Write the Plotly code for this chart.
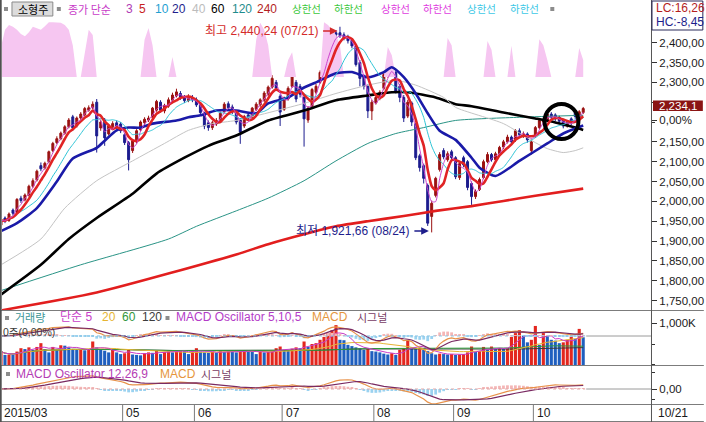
import pandas as pd
import plotly.graph_objects as go

# ---------------- trading calendar ----------------
months = ["03", "04", "05", "06", "07", "08", "09", "10"]
days_in_month = [
    [19, 20, 23, 24, 25, 26, 27, 30, 31],
    [1, 2, 3, 6, 7, 8, 9, 10, 13, 14, 15, 16, 17, 20, 21, 22, 23, 24, 27, 28, 29, 30],
    [4, 6, 7, 8, 11, 12, 13, 14, 15, 18, 19, 20, 21, 22, 26, 27, 28, 29],
    [1, 2, 3, 4, 5, 8, 9, 10, 11, 12, 15, 16, 17, 18, 19, 22, 23, 24, 25, 26, 29, 30],
    [1, 2, 3, 6, 7, 8, 9, 10, 13, 14, 15, 16, 17, 20, 21, 22, 23, 24, 27, 28, 29, 30, 31],
    [3, 4, 5, 6, 7, 10, 11, 12, 13, 17, 18, 19, 20, 21, 24, 25, 26, 27, 28, 31],
    [1, 2, 3, 4, 7, 8, 9, 10, 11, 14, 15, 16, 17, 18, 21, 22, 23, 24, 25, 30],
    [1, 2, 5, 6, 7, 8, 12, 13, 14, 15, 16, 19, 20],
]
month_labels = ["2015/03", "", "05", "06", "07", "08", "09", "10"]

# ---------------- daily prices (소형주 index) ----------------
open_ = [
    1940, 1958, 1952, 1978, 1972, 2008, 2004, 2016, 2038, 2054,
    2090, 2084, 2100, 2128, 2148, 2158, 2172, 2188, 2213, 2190,
    2210, 2218, 2230, 2236, 2250, 2185, 2205, 2170, 2188, 2198,
    2195, 2168, 2148, 2128, 2150, 2180, 2198, 2205, 2212, 2230,
    2250, 2228, 2240, 2255, 2266, 2272, 2262, 2254, 2262, 2256,
    2245, 2222, 2198, 2186, 2195, 2204, 2226, 2246, 2238, 2225,
    2205, 2190, 2218, 2212, 2232, 2243, 2255, 2270, 2288, 2300,
    2265, 2232, 2258, 2290, 2300, 2290, 2262, 2205, 2240, 2275,
    2300, 2330, 2360, 2396, 2425, 2425, 2420, 2415, 2405, 2390,
    2350, 2315, 2290, 2228, 2248, 2260, 2285, 2318, 2335, 2325,
    2290, 2262, 2215, 2248, 2195, 2115, 2090, 2040, 1962, 2015,
    2080, 2128, 2105, 2125, 2110, 2060, 2110, 2100, 2045, 2012,
    2030, 2060, 2100, 2118, 2105, 2120, 2137, 2150, 2162, 2155,
    2178, 2165, 2170, 2128, 2165, 2186, 2200, 2206, 2220, 2218,
    2212, 2205, 2190, 2208, 2225, 2212, 2224,
]
high = [
    1956, 1962, 1972, 1982, 2008, 2014, 2020, 2042, 2058, 2080,
    2098, 2100, 2128, 2150, 2164, 2176, 2192, 2210, 2218, 2214,
    2225, 2238, 2242, 2252, 2258, 2206, 2210, 2195, 2202, 2204,
    2200, 2172, 2152, 2156, 2182, 2204, 2212, 2216, 2238, 2256,
    2255, 2246, 2262, 2274, 2284, 2278, 2268, 2270, 2268, 2262,
    2250, 2226, 2204, 2203, 2210, 2226, 2250, 2252, 2244, 2230,
    2210, 2218, 2224, 2238, 2250, 2260, 2278, 2292, 2318, 2306,
    2270, 2264, 2290, 2332, 2306, 2296, 2268, 2240, 2286, 2296,
    2330, 2362, 2402, 2420, 2432, 2440.24, 2426, 2420, 2410, 2394,
    2356, 2320, 2295, 2256, 2268, 2280, 2326, 2345, 2340, 2330,
    2296, 2268, 2256, 2252, 2198, 2120, 2095, 2045, 2002, 2062,
    2124, 2134, 2126, 2130, 2114, 2100, 2115, 2104, 2050, 2030,
    2060, 2105, 2124, 2122, 2125, 2140, 2155, 2168, 2166, 2182,
    2184, 2176, 2174, 2156, 2190, 2208, 2212, 2226, 2225, 2222,
    2216, 2208, 2205, 2212, 2230, 2230, 2238,
]
low = [
    1934, 1945, 1948, 1964, 1970, 1996, 2000, 2012, 2034, 2050,
    2076, 2080, 2096, 2124, 2144, 2154, 2168, 2184, 2178, 2186,
    2205, 2214, 2226, 2232, 2123, 2178, 2140, 2166, 2184, 2182,
    2172, 2142, 2078, 2122, 2146, 2176, 2192, 2200, 2208, 2226,
    2224, 2222, 2236, 2250, 2262, 2256, 2248, 2250, 2250, 2238,
    2218, 2182, 2178, 2180, 2190, 2200, 2222, 2230, 2220, 2194,
    2145, 2185, 2204, 2208, 2228, 2238, 2250, 2265, 2284, 2278,
    2190, 2228, 2254, 2286, 2250, 2262, 2138, 2198, 2234, 2270,
    2296, 2326, 2356, 2390, 2410, 2412, 2406, 2398, 2386, 2340,
    2290, 2282, 2210, 2205, 2244, 2255, 2280, 2312, 2322, 2272,
    2250, 2200, 2210, 2190, 2104, 2075, 2045, 1938, 1921.66, 2010,
    2075, 2106, 2100, 2104, 2056, 2054, 2086, 2028, 1991, 2006,
    2026, 2056, 2096, 2100, 2100, 2116, 2132, 2146, 2144, 2150,
    2162, 2160, 2148, 2118, 2160, 2182, 2196, 2202, 2206, 2202,
    2196, 2184, 2186, 2192, 2208, 2208, 2220,
]
close = [
    1952, 1950, 1968, 1970, 2005, 2002, 2016, 2038, 2052, 2076,
    2082, 2096, 2125, 2146, 2158, 2172, 2188, 2205, 2185, 2210,
    2220, 2234, 2236, 2245, 2165, 2200, 2160, 2190, 2196, 2188,
    2178, 2148, 2105, 2152, 2178, 2200, 2207, 2210, 2235, 2252,
    2230, 2242, 2256, 2268, 2276, 2262, 2254, 2260, 2256, 2243,
    2224, 2190, 2186, 2198, 2204, 2222, 2245, 2236, 2226, 2200,
    2175, 2214, 2210, 2235, 2245, 2256, 2273, 2288, 2310, 2285,
    2225, 2260, 2285, 2322, 2258, 2270, 2208, 2235, 2282, 2290,
    2325, 2356, 2398, 2414, 2420, 2418, 2412, 2405, 2392, 2345,
    2310, 2290, 2228, 2250, 2262, 2275, 2320, 2335, 2328, 2278,
    2262, 2210, 2250, 2200, 2110, 2085, 2058, 1945, 1995, 2058,
    2118, 2112, 2120, 2110, 2062, 2095, 2092, 2035, 2012, 2025,
    2055, 2100, 2118, 2105, 2120, 2136, 2150, 2162, 2150, 2178,
    2168, 2170, 2155, 2150, 2186, 2204, 2206, 2220, 2212, 2208,
    2202, 2190, 2200, 2198, 2214, 2226, 2234.1,
]

# longer moving averages (read at sample days)
ma20_idx = [0, 4, 9, 14, 18, 24, 26, 29, 32, 35, 38, 44, 47, 50, 54, 59, 64, 67, 72, 76,
            79, 84, 88, 92, 96, 98, 101, 104, 107, 110, 114, 118, 120, 124, 130, 137, 141, 146]
ma20_val = [1925, 1945, 1983, 2050, 2108, 2135, 2153, 2179, 2186, 2186, 2196, 2204, 2212, 2217,
            2229, 2229, 2222, 2247, 2262, 2287, 2300, 2323, 2326, 2313, 2326, 2338, 2313, 2272,
            2222, 2178, 2155, 2110, 2085, 2064, 2102, 2146, 2171, 2191]
ma40_idx = [0, 10, 16, 24, 33, 41, 47, 53, 59, 76, 84, 92, 99, 104, 111, 114, 126, 134, 137, 141, 144, 146]
ma40_val = [1840, 1905, 1983, 2052, 2102, 2146, 2179, 2196, 2204, 2247, 2272, 2293, 2305, 2293,
            2262, 2237, 2196, 2148, 2133, 2123, 2128, 2135]
ma60_idx = [0, 10, 17, 24, 33, 39, 46, 52, 59, 67, 76, 84, 92, 98, 102, 109, 114, 118, 126, 134, 139, 144, 146]
ma60_val = [1765, 1840, 1905, 1958, 2019, 2070, 2110, 2140, 2166, 2204, 2229, 2255, 2267, 2275,
            2275, 2262, 2245, 2240, 2224, 2209, 2199, 2186, 2180]
ma120_idx = [0, 20, 42, 49, 59, 67, 76, 84, 92, 99, 106, 114, 130, 146]
ma120_val = [1775, 1840, 1905, 1937, 1976, 2008, 2052, 2102, 2146, 2171, 2186, 2204, 2212, 2217]
ma240_idx = [0, 24, 59, 67, 76, 84, 92, 101, 109, 118, 126, 134, 146]
ma240_val = [1725, 1770, 1866, 1892, 1917, 1937, 1950, 1963, 1976, 1988, 2001, 2014, 2032]

# band indicator shaded at the top of the price pane (0..1)
band = [
    0.51, 0.80, 0.88, 0.85, 0.80, 0.73, 0.69, 0.76, 0.85, 0.83,
    0.80, 0.86, 0.93, 0.93, 0.93, 0.92, 0.88, 0.80, 0.54, 0,
    0, 0.37, 0.80, 0.71, 0, 0, 0, 0, 0, 0,
    0, 0, 0, 0, 0, 0, 0.63, 0.83, 0.54, 0,
    0, 0, 0, 0.34, 0, 0, 0, 0, 0, 0,
    0, 0, 0, 0, 0, 0, 0, 0, 0, 0,
    0, 0, 0, 0, 0.63, 0.92, 0.80, 0.54, 0, 0,
    0, 0, 0.29, 0.42, 0, 0, 0, 0, 0, 0,
    0, 0.93, 0.88, 0.80, 0.71, 0.54, 0, 0, 0, 0,
    0, 0, 0, 0, 0, 0, 0, 0.51, 0.37, 0,
    0, 0, 0, 0, 0, 0, 0, 0, 0, 0,
    0, 0, 0.66, 0.54, 0, 0, 0, 0, 0, 0,
    0, 0, 0.61, 0.46, 0, 0, 0, 0, 0.53, 0,
    0, 0, 0, 0, 0, 0.64, 0.54, 0.29, 0, 0,
    0, 0, 0, 0, 0, 0.49, 0.29,
]

# volume, thousands of shares
volume = [
    320, 240, 250, 240, 320, 400, 380, 420, 360, 430,
    520, 380, 300, 430, 360, 470, 460, 420, 380, 360,
    370, 350, 360, 560, 420, 360, 340, 300, 360, 300,
    260, 280, 360, 250, 240, 230, 280, 300, 290, 340,
    260, 310, 350, 300, 340, 350, 330, 260, 350, 400,
    320, 300, 290, 310, 290, 340, 310, 350, 320, 300,
    330, 350, 340, 320, 260, 340, 300, 310, 330, 400,
    440, 350, 340, 390, 420, 400, 560, 430, 500, 520,
    600, 670, 760, 830, 950, 600, 590, 480, 450, 420,
    400, 360, 380, 330, 320, 300, 270, 250, 280, 240,
    360, 400, 590, 420, 400, 410, 360, 330, 280, 250,
    270, 260, 250, 260, 240, 250, 260, 300, 440, 310,
    330, 430, 360, 440, 380, 400, 390, 400, 670, 760,
    830, 710, 540, 600, 930, 480, 760, 690, 600, 580,
    520, 540, 600, 680, 620, 860, 660,
]

price_ticks = [1750, 1800, 1850, 1900, 1950, 2000, 2050, 2100, 2150, 2250, 2300, 2350, 2400]
hidden_ticks = [2250]          # sits under the last-price tag
pct_tick = (2205, "0,00%")
last_price = close[-1]
high_note = "최고 2,440,24 (07/21)"
low_note = "최저 1,921,66 (08/24)"

n = len(close)
assert len(open_) == len(high) == len(low) == len(volume) == len(band) == n
assert sum(len(d) for d in days_in_month) == n
idx = list(range(n))

# ---------------- canvas geometry ----------------
W, H = 706, 422
ML, MR, MT, MB = 2, 53, 18, 18
PW, PH = W - ML - MR, H - MT - MB


def fx(px):
    return (px - ML) / PW


def fy(py):
    return (H - MB - py) / PH


PRICE_RANGE = [1723.5, 2462.3]
BAND_BASE, BAND_SPAN = 2313.5, 148.8

UP, DN = "#9a1212", "#1c1c8e"
NUM_FONT = "Liberation Sans, Arial, sans-serif"
TXT_FONT = "Liberation Sans, Noto Sans CJK KR, sans-serif"
KR_FONT = "Noto Sans CJK KR, sans-serif"

# ---------------- derived series ----------------
c = pd.Series(close, dtype=float)
ma3 = c.rolling(3, min_periods=1).mean()
ma5 = c.rolling(5, min_periods=1).mean()
ma10 = c.rolling(10, min_periods=1).mean()


def macd(series, fast, slow, sig):
    m = series.ewm(span=fast, adjust=False).mean() - series.ewm(span=slow, adjust=False).mean()
    s = m.ewm(span=sig, adjust=False).mean()
    return m, s, m - s


m_s, s_s, h_s = macd(c, 5, 10, 5)
m_l, s_l, h_l = macd(c, 12, 26, 9)

v = pd.Series(volume, dtype=float)
vma = {k: v.rolling(k, min_periods=1).mean() for k in (5, 20, 60, 120)}
vol_colors = ["#e3261e" if i == 0 or volume[i] >= volume[i - 1] else "#1f5fbf" for i in idx]

fig = go.Figure()

# band shading
fig.add_trace(go.Scatter(x=idx, y=[BAND_BASE] * n, mode="lines", line=dict(width=0),
                         hoverinfo="skip", yaxis="y"))
fig.add_trace(go.Scatter(x=idx, y=[BAND_BASE + b * BAND_SPAN for b in band], mode="lines",
                         line=dict(width=0), fill="tonexty", fillcolor="#f6c6f1",
                         hoverinfo="skip", yaxis="y"))

# candles
fig.add_trace(go.Candlestick(
    x=idx, open=open_, high=high, low=low, close=close, yaxis="y",
    increasing=dict(line=dict(color=UP, width=1), fillcolor=UP),
    decreasing=dict(line=dict(color=DN, width=1), fillcolor=DN),
    whiskerwidth=0, hoverinfo="skip"))


def ma_line(xs, ys, color, width, spline=True):
    fig.add_trace(go.Scatter(x=xs, y=ys, mode="lines", yaxis="y", hoverinfo="skip",
                             line=dict(color=color, width=width,
                                       shape="spline" if spline else "linear", smoothing=0.6)))


ma_line(ma240_idx, ma240_val, "#e21e1e", 2.6)
ma_line(ma120_idx, ma120_val, "#2a9486", 1)
ma_line(ma60_idx, ma60_val, "#000000", 2.6)
ma_line(ma40_idx, ma40_val, "#c4c4c4", 1)
ma_line(ma20_idx, ma20_val, "#1a1aa8", 2.6)
ma_line(idx, ma10, "#2cc4d6", 1)
ma_line(idx, ma5, "#e02424", 2.6)
ma_line(idx, ma3, "#cc44cc", 1)

# volume pane
fig.add_trace(go.Bar(x=idx, y=volume, marker=dict(color=vol_colors, line=dict(width=0)),
                     width=0.78, yaxis="y2", hoverinfo="skip"))
for k, col in ((120, "#3c3c3c"), (60, "#2e9a3a"), (20, "#e6b432"), (5, "#c83cc8")):
    fig.add_trace(go.Scatter(x=idx, y=vma[k], mode="lines", line=dict(color=col, width=1),
                             yaxis="y2", hoverinfo="skip"))
fig.add_trace(go.Bar(x=idx, y=h_s, width=0.7, yaxis="y4", hoverinfo="skip",
                     marker=dict(color=["#f4b6b6" if h >= 0 else "#9ad2f0" for h in h_s],
                                 line=dict(width=0))))
fig.add_trace(go.Scatter(x=idx, y=m_s, mode="lines", line=dict(color="#e8924a", width=1.2),
                         yaxis="y4", hoverinfo="skip"))
fig.add_trace(go.Scatter(x=idx, y=s_s, mode="lines", line=dict(color="#7a2a62", width=1.2),
                         yaxis="y4", hoverinfo="skip"))

# MACD pane
fig.add_trace(go.Bar(x=idx, y=h_l, width=0.7, yaxis="y3", hoverinfo="skip",
                     marker=dict(color=["#f4b6b6" if h >= 0 else "#9ad2f0" for h in h_l],
                                 line=dict(width=0))))
fig.add_trace(go.Scatter(x=idx, y=m_l, mode="lines", line=dict(color="#e8924a", width=1.2),
                         yaxis="y3", hoverinfo="skip"))
fig.add_trace(go.Scatter(x=idx, y=s_l, mode="lines", line=dict(color="#7a2a62", width=1.2),
                         yaxis="y3", hoverinfo="skip"))

# ---------------- shapes ----------------
shapes = []
GRID = "#7c7c7c"


def hline(py, x0=0, x1=W, color=GRID, width=1, dash="solid"):
    shapes.append(dict(type="line", xref="paper", yref="paper", x0=fx(x0), x1=fx(x1),
                       y0=fy(py), y1=fy(py), line=dict(color=color, width=width, dash=dash)))


def rect(x0, y0, x1, y1, fill, line=None, lw=1):
    shapes.append(dict(type="rect", xref="paper", yref="paper", x0=fx(x0), x1=fx(x1),
                       y0=fy(y1), y1=fy(y0), fillcolor=fill,
                       line=dict(color=line or fill, width=lw if line else 0)))


hline(310.5)
hline(365.5)
hline(404.5)
hline(421.5)
shapes.append(dict(type="line", xref="paper", yref="paper", x0=fx(653.5), x1=fx(653.5),
                   y0=fy(422), y1=fy(0), line=dict(color="#555555", width=1)))
shapes.append(dict(type="line", xref="paper", yref="paper", x0=fx(0.7), x1=fx(0.7),
                   y0=fy(422), y1=fy(0), line=dict(color="#505050", width=2)))

# month separators on the date strip
starts = []
pos = 0
for d in days_in_month:
    starts.append(pos)
    pos += len(d)
for lab, s in zip(month_labels, starts):
    if lab and s > 0:
        shapes.append(dict(type="line", xref="x", yref="paper", x0=s - 0.5, x1=s - 0.5,
                           y0=fy(421), y1=fy(405), line=dict(color=GRID, width=1)))

# zero lines of the two oscillators
shapes.append(dict(type="line", xref="x", yref="y4", x0=0, x1=n - 0.5, y0=0, y1=0,
                   line=dict(color="#8cc4e2", width=1, dash="dot")))
hline(336, 588, 653, color="#9a9a9a")
shapes.append(dict(type="line", xref="x", yref="y3", x0=0, x1=n - 0.5, y0=0, y1=0,
                   line=dict(color="#e0a8a8", width=1, dash="dot")))
hline(389, 588, 653, color="#9a9a9a")

# header controls
rect(12, 2, 53, 16, "#dcdcdc", "#8a8a8a")
for sx, sy in ((4, 7), (57, 7), (552, 7), (5, 316), (166, 316), (6, 372)):
    rect(sx, sy, sx + 4, sy + 4, "#8c8c8c")

# LC / HC box and last price tag
rect(654, 1, 705, 30, "#ffffff", "#2a2a5a")
shapes.append(dict(type="rect", xref="paper", yref="y", x0=fx(655), x1=fx(705),
                   y0=last_price - 6, y1=last_price + 20, fillcolor="#8a1414",
                   line=dict(width=0)))

# circled area near the end of the series
shapes.append(dict(type="circle", xref="x", yref="paper", x0=136.3, x1=144.8,
                   y0=fy(139), y1=fy(104), line=dict(color="#000000", width=4)))

# ---------------- annotations ----------------
ann = []


def txt(px, py, text, color, size=11.5, family=TXT_FONT, anchor="left"):
    ann.append(dict(xref="paper", yref="paper", x=fx(px), y=fy(py), text=text,
                    showarrow=False, xanchor=anchor, yanchor="middle",
                    font=dict(family=family, size=size, color=color)))


txt(16, 9, "소형주", "#000000", 11, KR_FONT)
header = [
    (66, "종가 단순", "#c83cc8", KR_FONT, 11), (124, "3", "#b03cb4", TXT_FONT, 12),
    (137, "5", "#c81e1e", TXT_FONT, 12), (153, "10", "#1ea0d2", TXT_FONT, 12),
    (171, "20", "#1e1e8c", TXT_FONT, 12), (191, "40", "#bcbcbc", TXT_FONT, 12),
    (210, "60", "#000000", TXT_FONT, 12), (231, "120", "#1e8c8c", TXT_FONT, 12),
    (256, "240", "#b41e1e", TXT_FONT, 12),
    (291, "상한선", "#3cc83c", KR_FONT, 10.5), (333, "하한선", "#3cc83c", KR_FONT, 10.5),
    (380, "상한선", "#e03ce0", KR_FONT, 10.5), (422, "하한선", "#e03ce0", KR_FONT, 10.5),
    (466, "상한선", "#3cc8e6", KR_FONT, 10.5), (510, "하한선", "#3cc8e6", KR_FONT, 10.5),
]
for px, t, col, fam, sz in header:
    txt(px, 9, t, col, sz, fam)

vol_header = [
    (13, "거래량", "#3c9696", KR_FONT, 11), (58, "단순 5", "#c83cc8", TXT_FONT, 12),
    (100, "20", "#e6b432", TXT_FONT, 12), (120, "60", "#32963c", TXT_FONT, 12),
    (140, "120", "#3c3c3c", TXT_FONT, 12), (175, "MACD Oscillator 5,10,5", "#b43cc8", TXT_FONT, 12),
    (311, "MACD", "#e6963c", TXT_FONT, 12), (356, "시그널", "#783c64", KR_FONT, 11),
]
for px, t, col, fam, sz in vol_header:
    txt(px, 317, t, col, sz, fam)
txt(1, 332, "0주(0,00%)", "#3a3a3a", 10.5)

macd_header = [
    (14, "MACD Oscillator 12,26,9", "#b43cb4", TXT_FONT, 12),
    (158, "MACD", "#e6963c", TXT_FONT, 12), (200, "시그널", "#783c64", KR_FONT, 11),
]
for px, t, col, fam, sz in macd_header:
    txt(px, 374, t, col, sz, fam)

# date strip labels
for lab, s in zip(month_labels, starts):
    if not lab:
        continue
    ann.append(dict(xref="x" if s > 0 else "paper", yref="paper",
                    x=s - 0.1 if s > 0 else fx(2), y=fy(413), text=lab, showarrow=False,
                    xanchor="left", yanchor="middle",
                    font=dict(family=NUM_FONT, size=12, color="#1a1a1a")))
txt(658, 413, "10/21", "#1a1a1a", 12, NUM_FONT)

# LC / HC readout and last price
txt(656, 8, "LC:16,26", "#b41e1e", 12, NUM_FONT)
txt(656, 22, "HC:-8,45", "#1e1e8c", 12, NUM_FONT)
ann.append(dict(xref="paper", yref="y", x=fx(680), y=last_price + 7,
                text=f"{last_price:,.1f}".replace(".", ","), showarrow=False,
                xanchor="center", yanchor="middle",
                font=dict(family=NUM_FONT, size=11.5, color="#ffffff")))

# high / low notes
hi_i = max(idx, key=lambda i: high[i])
lo_i = min(idx, key=lambda i: low[i])
txt(321, 31, high_note, "#d42a2a", 12, TXT_FONT, anchor="right")
ann.append(dict(xref="x", yref="paper", x=hi_i - 0.6, y=fy(31), ax=-16, ay=0, text="",
                showarrow=True, arrowhead=2, arrowsize=1.1, arrowwidth=1.4, arrowcolor="#d42a2a"))
txt(412, 231, low_note, "#1e1e8c", 12, TXT_FONT, anchor="right")
ann.append(dict(xref="x", yref="paper", x=lo_i - 0.7, y=fy(231), ax=-16, ay=0, text="",
                showarrow=True, arrowhead=2, arrowsize=1.1, arrowwidth=1.4, arrowcolor="#1e1e8c"))

# ---------------- axes ----------------
def fmt(vv):
    return "" if vv in hidden_ticks else f"{vv:,.2f}".replace(".", ",")


tickvals = price_ticks + [pct_tick[0]]
ticktext = [fmt(t) for t in price_ticks] + [pct_tick[1]]
minor_vals = [t + 25 for t in range(1725, 2400, 50)]

axis_font = dict(family=NUM_FONT, size=11.5, color="#1a1a1a")
common_y = dict(side="right", anchor="x", showgrid=False, zeroline=False, showline=False,
                ticks="outside", ticklen=5, tickcolor="#333333", tickwidth=1,
                tickfont=axis_font, fixedrange=True)

fig.update_layout(
    width=W, height=H, margin=dict(l=ML, r=MR, t=MT, b=MB, pad=0),
    paper_bgcolor="white", plot_bgcolor="white", showlegend=False, barmode="overlay",
    hovermode=False, shapes=shapes, annotations=ann,
    xaxis=dict(domain=[0, 1], range=[0.25, 163.0], anchor="y3", showticklabels=False,
               ticks="", showgrid=False, zeroline=False, showline=False,
               rangeslider=dict(visible=False), fixedrange=True),
    yaxis=dict(domain=[fy(311), 1], range=PRICE_RANGE, tickmode="array", tickvals=tickvals,
               ticktext=ticktext,
               minor=dict(tickmode="array", tickvals=minor_vals, ticks="outside", ticklen=3,
                          tickcolor="#333333"),
               **common_y),
    yaxis2=dict(domain=[fy(365), fy(311)], range=[0, 1286], tickmode="array",
                tickvals=[1000], ticktext=["1,000K"],
                minor=dict(tickmode="array", tickvals=[20, 500], ticks="outside", ticklen=3,
                           tickcolor="#333333"),
                **common_y),
    yaxis3=dict(domain=[0, fy(366)], range=[-75, 115], tickmode="array", tickvals=[0],
                ticktext=["0,00"],
                minor=dict(tickmode="array", tickvals=[-50, 85], ticks="outside", ticklen=3,
                           tickcolor="#333333"),
                **common_y),
    yaxis4=dict(overlaying="y2", anchor="x", range=[-121, 104], visible=False, fixedrange=True),
)

fig.write_html("out.html", config={"displayModeBar": False})
